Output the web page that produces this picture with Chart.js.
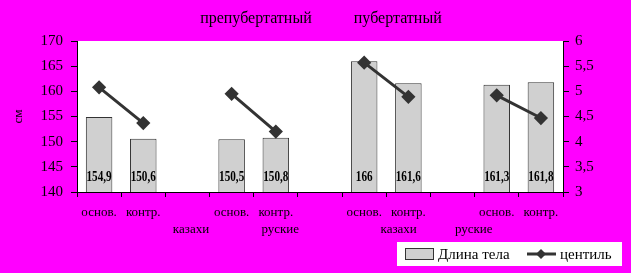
<!DOCTYPE html>
<html>
<head>
<meta charset="utf-8">
<script src="https://cdn.jsdelivr.net/npm/chart.js@4"></script>
<style>
  html, body { margin: 0; padding: 0; background: #ff00ff; }
  #wrap { width: 631px; height: 273px; }
</style>
</head>
<body>
<div id="wrap"><canvas id="chart" width="631" height="273"></canvas></div>
<script>
// =======================
// Datos
const categories = ["основ.", "контр.", "", "основ.", "контр.", "", "основ.", "контр.", "", "основ.", "контр."];
const bodyLength = [154.9, 150.6, null, 150.5, 150.8, null, 166, 161.6, null, 161.3, 161.8];
const centile = [5.08, 4.37, null, 4.95, 4.2, null, 5.57, 4.89, null, 4.92, 4.47];
const groupLabels = ["казахи", "руские", "казахи", "руские"];
const groupPos = [2.08, 4.1, 6.78, 8.48];
const periodTitles = ["препубертатный", "пубертатный"];
const periodPos = [3.55, 6.76];
const seriesNames = ["Длина тела", "центиль"];
const leftRange = [140, 170, 5];
const rightRange = [3, 6, 0.5];

const SERIF = "'Liberation Serif', 'Times New Roman', serif";
const fmtComma = (v) => String(v).replace(".", ",");

// =======================
// Plugins
const decor = {
  id: "decor",
  beforeDraw(chart) {
    const { ctx, chartArea: a } = chart;
    ctx.save();
    ctx.fillStyle = "#ffffff";
    ctx.fillRect(a.left, a.top, a.right - a.left, a.bottom - a.top);
    ctx.restore();
  },
  afterDraw(chart) {
    const { ctx } = chart;
    const x = chart.scales.x;
    const y = chart.scales.y;
    ctx.save();
    ctx.fillStyle = "#000";
    ctx.textAlign = "center";
    ctx.textBaseline = "middle";

    // títulos de periodo
    ctx.font = "16px " + SERIF;
    periodTitles.forEach((t, i) => ctx.fillText(t, x.getPixelForValue(periodPos[i]), 19));

    // segunda línea de categorías
    ctx.font = "13px " + SERIF;
    groupLabels.forEach((t, i) => ctx.fillText(t, x.getPixelForValue(groupPos[i]), 230));

    // etiquetas de barras (abajo, dentro de la barra)
    const baseY = y.getPixelForValue(leftRange[0]) - 15;
    bodyLength.forEach((v, i) => {
      if (v == null) return;
      ctx.save();
      ctx.translate(x.getPixelForValue(i), baseY);
      ctx.scale(0.8, 1);
      ctx.font = "bold 14px " + SERIF;
      ctx.fillText(fmtComma(v), 0, 0);
      ctx.restore();
    });

    // leyenda
    ctx.fillStyle = "#ffffff";
    ctx.fillRect(397, 242, 225, 24);
    ctx.fillStyle = "#d0d0d0";
    ctx.fillRect(405, 248, 29, 12);
    ctx.strokeStyle = "#333";
    ctx.lineWidth = 1;
    ctx.strokeRect(405.5, 248.5, 28, 11);
    ctx.beginPath();
    ctx.moveTo(527, 254);
    ctx.lineTo(556, 254);
    ctx.lineWidth = 3;
    ctx.stroke();
    ctx.fillStyle = "#333";
    ctx.beginPath();
    ctx.moveTo(541, 249);
    ctx.lineTo(546, 254);
    ctx.lineTo(541, 259);
    ctx.lineTo(536, 254);
    ctx.closePath();
    ctx.fill();
    ctx.fillStyle = "#000";
    ctx.textAlign = "left";
    ctx.font = "15px " + SERIF;
    ctx.fillText(seriesNames[0], 438, 255);
    ctx.fillText(seriesNames[1], 560, 255);
    ctx.restore();
  },
};

// =======================
// Gráfico
new Chart(document.getElementById("chart"), {
  data: {
    labels: categories,
    datasets: [
      {
        type: "line",
        label: seriesNames[1],
        data: centile,
        yAxisID: "y2",
        borderColor: "#333",
        borderWidth: 3,
        pointStyle: "rectRot",
        pointRadius: 5,
        pointBackgroundColor: "#333",
        pointBorderColor: "#333",
        spanGaps: false,
        tension: 0,
        order: 0,
      },
      {
        type: "bar",
        label: seriesNames[0],
        data: bodyLength,
        yAxisID: "y",
        backgroundColor: "#d0d0d0",
        borderColor: "#333",
        borderWidth: 1,
        barPercentage: 0.6,
        categoryPercentage: 1,
        order: 1,
      },
    ],
  },
  options: {
    responsive: false,
    animation: { duration: 0 },
    layout: { padding: { top: 41, left: 0, right: 0, bottom: 0 } },
    plugins: { legend: { display: false }, title: { display: false }, tooltip: { enabled: false } },
    scales: {
      x: {
        offset: true,
        grid: { offset: true, drawOnChartArea: false, color: "#000", tickLength: 5 },
        border: { color: "#000" },
        ticks: { color: "#000", font: { family: SERIF, size: 13 }, padding: 8, maxRotation: 0, autoSkip: false },
        afterFit: (s) => { s.height = 81; },
      },
      y: {
        position: "left",
        min: leftRange[0],
        max: leftRange[1],
        ticks: { stepSize: leftRange[2], color: "#000", font: { family: SERIF, size: 15 }, padding: 8 },
        grid: { drawOnChartArea: false, color: "#000", tickLength: 6 },
        border: { color: "#000" },
        title: { display: true, text: "см", color: "#000", font: { family: SERIF, size: 13 }, padding: { top: 11, bottom: 0 } },
        afterFit: (s) => { s.width = 77; },
      },
      y2: {
        position: "right",
        min: rightRange[0],
        max: rightRange[1],
        ticks: { stepSize: rightRange[2], color: "#000", font: { family: SERIF, size: 15 }, padding: 6, callback: (v) => fmtComma(v) },
        grid: { drawOnChartArea: false, color: "#000", tickLength: 6 },
        border: { color: "#000" },
        afterFit: (s) => { s.width = 68; },
      },
    },
  },
  plugins: [decor],
});
</script>
</body>
</html>
